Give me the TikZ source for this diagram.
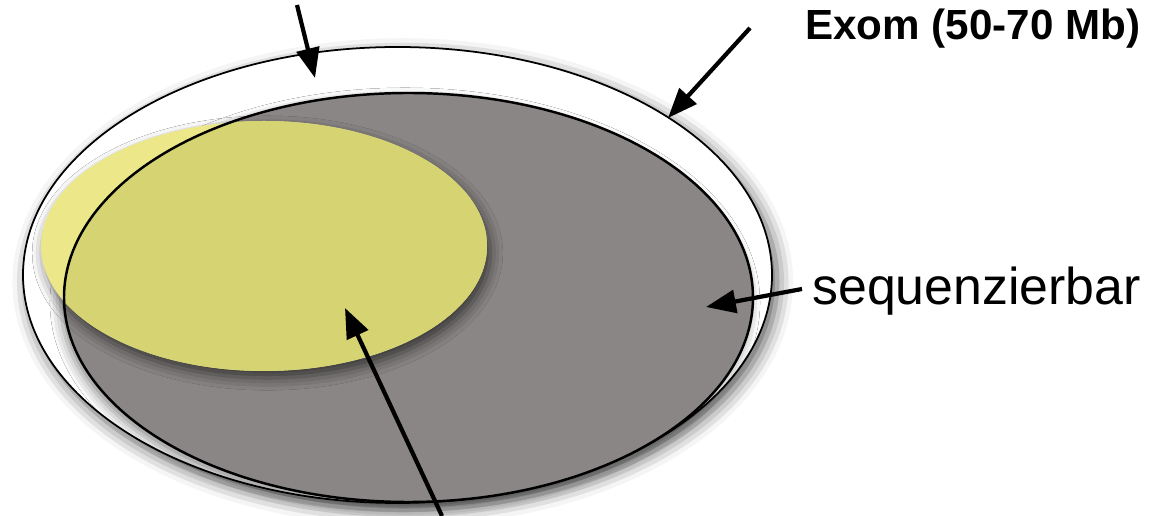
\documentclass[tikz,border=0pt]{standalone}
\usepackage{fontspec}
\setmainfont{Liberation Sans}
\usetikzlibrary{arrows.meta, shadows.blur}
\definecolor{seqgray}{RGB}{138,134,133}
\definecolor{lightyellow}{RGB}{236,232,138}
\definecolor{darkyellow}{RGB}{214,211,114}
\tikzset{
  exomring/.style={draw=black, line width=1pt, fill=white,
    blur shadow={shadow xshift=3pt, shadow yshift=-4pt, shadow blur radius=9pt, shadow opacity=65}},
  seqfill/.style={fill=seqgray,
    blur shadow={shadow xshift=-2pt, shadow yshift=-3pt, shadow blur radius=6pt, shadow opacity=45}},
  seqline/.style={draw=black, line width=1.4pt},
  targetfill/.style={fill=lightyellow,
    blur shadow={shadow xshift=2pt, shadow yshift=-4pt, shadow blur radius=7pt, shadow opacity=60}},
  pointer/.style={-{Triangle[length=17pt,width=13pt,fill=black]}, line width=2.4pt,
    opacity=1, fill opacity=1},
  biglabel/.style={font=\fontsize{29.5}{32}\selectfont, inner sep=0pt},
  headlabel/.style={font=\bfseries\fontsize{24}{26}\selectfont, inner sep=0pt}
}

\begin{document}
\begin{tikzpicture}[x=0.02cm, y=-0.02cm]
  \useasboundingbox (0,0) rectangle (1156,516);
  % exome, sequencable part, target
  \path[exomring] (397.5,275) ellipse [x radius=374.5, y radius=228];
  \path[seqfill] (408.5,297.5) ellipse [x radius=344.5, y radius=204.5];
  \path[targetfill] (264,246) ellipse [x radius=223, y radius=125];
  \begin{scope}
    \clip (408.5,297.5) ellipse [x radius=344.5, y radius=204.5];
    \fill[darkyellow] (264,246) ellipse [x radius=223, y radius=125];
  \end{scope}
  \path[seqline] (408.5,297.5) ellipse [x radius=344.5, y radius=204.5];

  % labels
  \node[headlabel, anchor=base west] (exom) at (805,40) {Exom (50-70 Mb)};
  \node[biglabel, anchor=base west] (seq) at (812,305) {sequenzierbar};

  % arrow ends
  \coordinate (topfoot) at (297,5);
  \coordinate (toptip) at (315,78);
  \coordinate (exomfoot) at (750,28);
  \coordinate (exomtip) at (668,118);
  \coordinate (seqfoot) at (802,289);
  \coordinate (seqtip) at (706,307);
  \coordinate (targetfoot) at (442,516);
  \coordinate (targettip) at (345,308);

  \draw[pointer] (topfoot) -- (toptip);
  \draw[pointer] (exomfoot) -- (exomtip);
  \draw[pointer] (seqfoot) -- (seqtip);
  \draw[pointer] (targetfoot) -- (targettip);
\end{tikzpicture}
\end{document}
